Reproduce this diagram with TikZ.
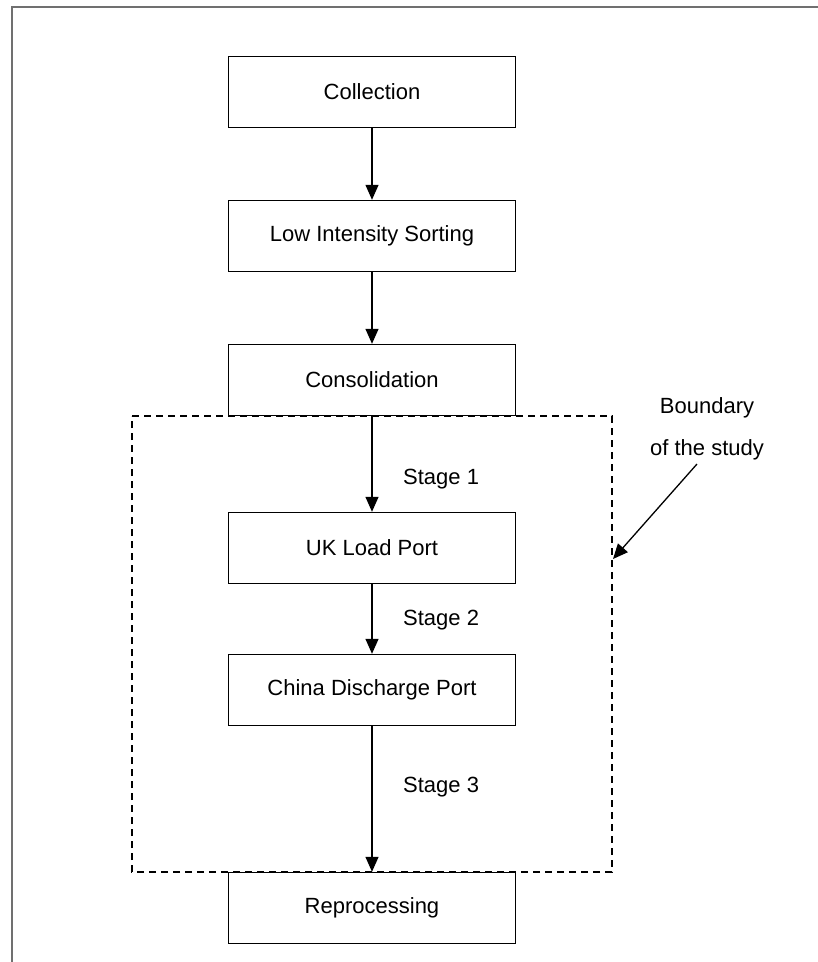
\documentclass[tikz,border=0pt]{standalone}
\usepackage{fontspec}
\setmainfont{Liberation Sans}
\usetikzlibrary{arrows.meta}
\definecolor{framegray}{RGB}{112,112,112}
\tikzset{
  stepbox/.style={draw, line width=1.4pt, minimum width=287pt, minimum height=71pt,
    inner sep=0pt, font=\fontsize{22}{26}\selectfont},
  flow/.style={-{Triangle[length=15pt,width=13pt]}, line width=1.3pt},
  stagelabel/.style={anchor=west, inner sep=0pt, font=\fontsize{22}{26}\selectfont},
  studyline/.style={line width=1.3pt, dash pattern=on 7pt off 5pt},
}

\begin{document}
\begin{tikzpicture}[x=1pt,y=-1pt]
\useasboundingbox (0,0) rectangle (818,962);
% page frame, cut off at right and bottom
\draw[framegray, line width=1.3pt] (12,962)--(12,7)--(818,7);

% boundary of the study
\draw[studyline] (132,416)--(612,416)--(612,872)--(132,872)--cycle;

\node[stepbox] (coll) at (372,92)  {Collection};
\node[stepbox] (sort) at (372,236) {Low Intensity Sorting};
\node[stepbox] (cons) at (372,380) {Consolidation};
\node[stepbox] (ukport) at (372,548) {UK Load Port};
\node[stepbox] (cnport) at (372,690) {China Discharge Port};
\node[stepbox] (repro) at (372,908) {Reprocessing};

\draw[flow] (coll) -- (sort);
\draw[flow] (sort) -- (cons);
\draw[flow] (cons) -- (ukport);
\draw[flow] (ukport) -- (cnport);
\draw[flow] (cnport) -- (repro);

\node[stagelabel] (st1) at (403,479) {Stage 1};
\node[stagelabel] (st2) at (403,620) {Stage 2};
\node[stagelabel] (st3) at (403,787) {Stage 3};

\node[align=center, font=\fontsize{22}{42}\selectfont] (bnd) at (707,429) {Boundary\\of the study};
\coordinate (bndfrom) at (697,464);
\coordinate (bndto) at (613,559);
\draw[flow] (bndfrom) -- (bndto);
\end{tikzpicture}
\end{document}
